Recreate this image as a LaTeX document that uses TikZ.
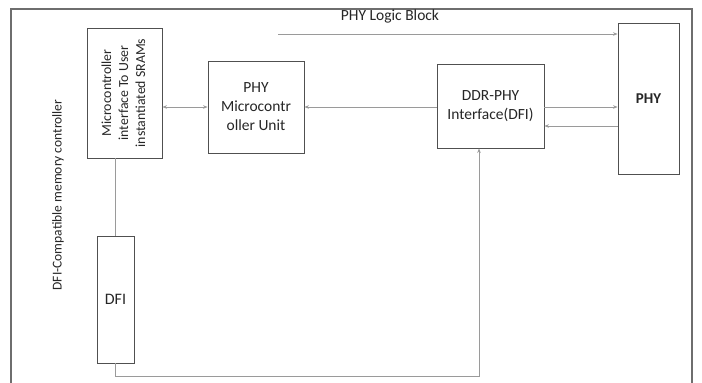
\documentclass[tikz,border=0pt]{standalone}
\usepackage{fontspec}
\setmainfont{Carlito}
\usetikzlibrary{arrows.meta,calc}
\definecolor{framec}{HTML}{6E6E6E}
\definecolor{boxc}{HTML}{505050}
\definecolor{linec}{HTML}{9A9A9A}
\tikzset{
  blk/.style={draw=boxc, line width=0.9pt, rectangle, inner sep=0pt, align=center,
    font=\fontsize{15.5}{19}\selectfont, text=black!85},
  conn/.style={draw=linec, line width=0.9pt},
  tip/.style={-{Stealth[length=4.5pt,width=3.5pt]}},
  tips/.style={{Stealth[length=4.5pt,width=3.5pt]}-{Stealth[length=4.5pt,width=3.5pt]}},
}
\begin{document}
\begin{tikzpicture}[x=1pt,y=-1pt]
\useasboundingbox (0,0) rectangle (702,383);
\fill[white] (0,0) rectangle (702,383);
% outer frame
\draw[framec, line width=1.6pt] (11,385) -- (11,9) -- (692,9) -- (692,385);
% nodes
\node[blk, minimum width=75pt, minimum height=130pt] (micro) at (124.5,93)
  {\rotatebox{90}{\fontsize{13.8}{18}\selectfont\begin{tabular}{@{}c@{}}Microcontroller\\[-1pt] interface To User\\[-1pt] instantiated SRAMs\end{tabular}}};
\node[blk, minimum width=96pt, minimum height=92pt] (pmcu) at (256,107)
  {PHY\\ Microcontr\\ oller Unit};
\node[blk, minimum width=107pt, minimum height=84pt] (ddr) at (490.5,106)
  {DDR-PHY\\ Interface(DFI)};
\node[blk, minimum width=61pt, minimum height=151pt, font=\fontsize{15}{17}\selectfont\bfseries] (phy) at (648.5,98.5)
  {PHY};
\node[blk, minimum width=37pt, minimum height=127pt, font=\fontsize{16}{19}\selectfont] (dfi) at (115.5,299.5)
  {DFI};
\node[font=\fontsize{15.5}{18}\selectfont, text=black!85] (title) at (390,16) {PHY Logic Block};
\node[font=\fontsize{13.5}{15}\selectfont, text=black!85, rotate=90] (side) at (58,195) {DFI-Compatible memory controller};
% connectors
\coordinate (ta) at (278,34);
\draw[conn, tip] (ta) -- (ta -| phy.west);
\draw[conn, tips] (micro.east |- pmcu.west) -- (pmcu.west);
\draw[conn, tip] (ddr.west |- pmcu.east) -- (pmcu.east);
\coordinate (r1) at (560,107);
\coordinate (r2) at (560,126);
\draw[conn, tip] (ddr.east |- r1) -- (phy.west |- r1);
\draw[conn, tip] (phy.west |- r2) -- (ddr.east |- r2);
\draw[conn] (micro.south -| dfi.north) -- (dfi.north);
\coordinate (bc) at (479,376);
\draw[conn, tip] (dfi.south) |- (bc) -- (bc |- ddr.south);
\end{tikzpicture}
\end{document}
